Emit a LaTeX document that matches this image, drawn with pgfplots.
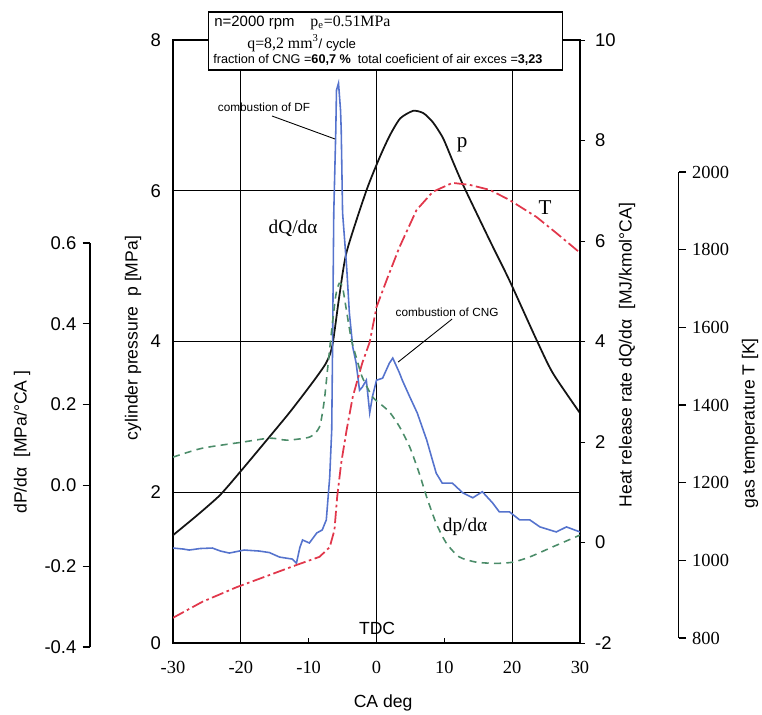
\documentclass[border=0pt]{standalone}
\usepackage{fontspec}
\setmainfont{Liberation Serif}
\setsansfont{Liberation Sans}
\usepackage{pgfplots}
\pgfplotsset{compat=1.18}
\definecolor{pcol}{RGB}{20,20,20}
\definecolor{tcol}{RGB}{225,55,75}
\definecolor{qcol}{RGB}{85,115,205}
\definecolor{dpcol}{RGB}{75,140,105}
\pgfplotsset{
  base/.style={scale only axis, anchor=south west, xmin=-30, xmax=30, width=8.14cm,
    /pgf/number format/assume math mode=true, /pgf/number format/1000 sep={}},
  scalebar/.style={scale only axis, anchor=south west, width=0.01cm, xmin=0, xmax=1,
    axis x line=none, tick align=outside, major tick length=0.15cm,
    /pgf/number format/assume math mode=true, /pgf/number format/1000 sep={},
    axis line style={line width=0.6pt}, every tick/.style={black, line width=0.6pt}},
}
\begin{document}
\begin{tikzpicture}
\useasboundingbox (0,0) rectangle (15.24,14.28);

% cylinder pressure (main frame)
\begin{axis}[base, at={(3.46cm,1.42cm)}, height=12.06cm, ymin=0, ymax=8,
  xtick={-30,-20,...,30}, ytick={0,2,...,8}, xtick pos=bottom, ytick pos=left,
  ymajorgrids, extra x ticks={-20,0,20}, extra x tick labels={}, extra x tick style={grid=major},
  grid style={black, line width=0.5pt}, axis line style={line width=0.6pt},
  major tick length=0.1cm, every tick/.style={black, line width=0.5pt},
  xticklabel style={font=\rmfamily\fontsize{10.5}{12}\selectfont, yshift=-0.25cm},
  yticklabel style={font=\sffamily\fontsize{10.5}{12}\selectfont, xshift=-0.12cm}]
\addplot[pcol, line width=1pt, smooth, tension=0.4] coordinates {
 (-30,1.43)(-26.5,1.69)(-23.1,1.96)(-20.1,2.27)(-16.2,2.69)(-12.8,3.06)(-9.4,3.46)
 (-7.4,3.72)(-6.5,3.95)(-5.5,4.59)(-4.4,5.19)(-1.5,6.0)(0.5,6.45)(2.0,6.74)(3.5,6.96)
 (5.4,7.06)(6.9,7.03)(8.3,6.91)(9.8,6.70)(11.3,6.38)(12.8,6.07)(16.7,5.34)(19.6,4.81)
 (23.6,4.02)(26,3.58)(30,3.05)};
\end{axis}

% heat release rate (right axis of main frame)
\begin{axis}[base, at={(3.46cm,1.42cm)}, height=12.06cm, ymin=-2, ymax=10,
  axis x line=none, axis y line*=right, ytick={-2,0,...,10}, tick align=outside,
  major tick length=0.1cm, axis line style={line width=0.6pt},
  every tick/.style={black, line width=0.5pt},
  yticklabel style={font=\sffamily\fontsize{10.5}{12}\selectfont, xshift=0.08cm}]
\addplot[qcol, line width=0.9pt] coordinates {
 (-30,-0.11)(-28.5,-0.13)(-27.6,-0.15)(-26,-0.12)(-24.2,-0.11)(-23,-0.17)(-21.7,-0.21)
 (-19.5,-0.15)(-17.3,-0.17)(-15.8,-0.2)(-14.3,-0.29)(-12.4,-0.33)(-11.8,-0.41)(-11.3,-0.1)
 (-10.9,0.05)(-9.9,-0.01)(-8.8,0.19)(-8.0,0.25)(-7.4,0.45)(-6.9,1.3)(-6.6,2.24)(-6.5,3.57)
 (-6.3,6.56)(-6.0,8.2)(-5.9,9.0)(-5.6,9.14)(-5.3,8.6)(-5.2,8.2)(-5.0,6.56)(-4.4,5.48)
 (-4.0,4.57)(-3.5,3.89)(-3.0,3.57)(-2.5,3.03)(-2.1,3.09)(-1.5,3.23)(-1.0,2.58)(-0.6,2.9)
 (0,3.23)(0.9,3.27)(1.9,3.57)(2.4,3.67)(3.4,3.37)(3.8,3.23)(4.9,2.9)(6.0,2.58)(7.4,2.04)
 (8.8,1.38)(9.7,1.18)(11.2,1.18)(12.7,0.99)(14.2,0.89)(15.6,1.01)(17.1,0.79)(18.1,0.61)
 (19.6,0.61)(21.1,0.45)(22.6,0.45)(24.1,0.31)(26.5,0.21)(28,0.31)(30,0.21)};
\end{axis}

% gas temperature
\begin{axis}[base, at={(3.46cm,1.52cm)}, height=9.32cm, ymin=800, ymax=2000, hide axis]
\addplot[tcol, line width=1pt, dash pattern=on 7pt off 2pt on 1.5pt off 2pt] coordinates {
 (-30,852)(-25.7,893)(-20.6,931)(-15.8,962)(-11.8,988)(-8.4,1009)(-6.9,1034)(-6.2,1078)
 (-5.8,1163)(-5.2,1251)(-4.4,1336)(-3.5,1421)(-2.1,1508)(-1.0,1562)(0,1652)(1.5,1722)
 (3.4,1807)(5.9,1902)(8.3,1949)(11.2,1972)(13.7,1967)(16.7,1954)(19.6,1928)(23.6,1884)
 (26.5,1843)(30,1792)};
\end{axis}
\begin{axis}[scalebar, at={(13.56cm,1.52cm)}, height=9.32cm, ymin=800, ymax=2000,
  axis y line*=right, ytick={800,1000,...,2000},
  yticklabel style={font=\rmfamily\fontsize{10.5}{12}\selectfont}]
\end{axis}

% dp/dalpha
\begin{axis}[base, at={(3.46cm,1.34cm)}, height=8.08cm, ymin=-0.4, ymax=0.6, hide axis]
\addplot[dpcol, line width=0.9pt, dash pattern=on 4pt off 3pt, smooth, tension=0.4] coordinates {
 (-30,0.070)(-25.7,0.092)(-19.8,0.107)(-15.7,0.117)(-13.2,0.112)(-9.8,0.120)
 (-8.4,0.145)(-7.7,0.21)(-7.2,0.29)(-6.6,0.385)(-6.0,0.47)(-5.5,0.50)(-5.0,0.49)(-4.4,0.43)
 (-3.7,0.36)(-3.0,0.318)(-2.1,0.268)(-0.6,0.219)(0.4,0.204)(1.9,0.182)(3.4,0.145)(4.9,0.095)
 (6.3,0.030)(7.4,-0.029)(8.8,-0.094)(10.3,-0.143)(12.2,-0.177)(14.7,-0.190)(17.7,-0.193)
 (20.1,-0.190)(22.6,-0.177)(26,-0.152)(30,-0.123)};
\end{axis}
\begin{axis}[scalebar, at={(1.80cm,1.34cm)}, height=8.08cm, ymin=-0.4, ymax=0.6,
  axis y line*=left, ytick={-0.4,-0.2,0,0.2,0.4,0.6},
  yticklabels={-0.4,-0.2,0.0,0.2,0.4,0.6},
  yticklabel style={font=\sffamily\fontsize{10.5}{12}\selectfont}]
\end{axis}

% labels and annotations (pixel coordinates of the reference)
\begin{scope}[x=0.02cm, y=-0.02cm, shift={(0cm,14.28cm)}]
\tikzset{lab/.style={font=\sffamily\fontsize{10}{12}\selectfont}}
\node[lab, rotate=90] at (133,338) {cylinder pressure\ \ p [MPa]};
\node[lab, rotate=90] at (22,442) {dP/dα\ \ [MPa/°CA ]};
\node[lab, rotate=90] at (627,355) {Heat release rate dQ/dα\ \ [MJ/kmol°CA]};
\node[lab, rotate=90] at (750,423) {gas temperature T [K]};
\node[lab] at (383,703) {CA deg};
\node[lab] at (377,628) {TDC};
\node[font=\rmfamily\fontsize{12}{14}\selectfont] at (462,145) {p};
\node[font=\rmfamily\fontsize{12}{14}\selectfont] at (545,208) {T};
\node[font=\rmfamily\fontsize{11}{13}\selectfont] at (293,228) {dQ/dα};
\node[font=\rmfamily\fontsize{11}{13}\selectfont] at (465,527) {dp/dα};
\node[font=\sffamily\fontsize{6.7}{8}\selectfont] at (264,107) {combustion of DF};
\draw[line width=0.5pt] (272,116) -- (335,139);
\node[font=\sffamily\fontsize{6.7}{8}\selectfont] at (447,312) {combustion of CNG};
\draw[line width=0.5pt] (452,319) -- (398,362);
% parameter box
\draw[fill=white, line width=0.6pt] (208,12) rectangle (562,70);
\node[anchor=west, inner sep=0pt, font=\sffamily\fontsize{8.5}{10}\selectfont] at (214,23) {n=2000 rpm};
\node[anchor=west, inner sep=0pt, font=\rmfamily\fontsize{9}{10}\selectfont] at (310,23) {p\textsubscript{e}=0.51MPa};
\node[anchor=west, inner sep=0pt, font=\rmfamily\fontsize{9}{10}\selectfont] at (247,43) {q=8,2 mm\textsuperscript{3}{\sffamily\fontsize{7.5}{9}\selectfont/ cycle}};
\node[anchor=west, inner sep=0pt, font=\sffamily\fontsize{7.2}{8}\selectfont] at (213,60) {fraction of CNG =\textbf{60,7 \%}\ \ total coeficient of air exces =\textbf{3,23}};
\end{scope}
\end{tikzpicture}
\end{document}
